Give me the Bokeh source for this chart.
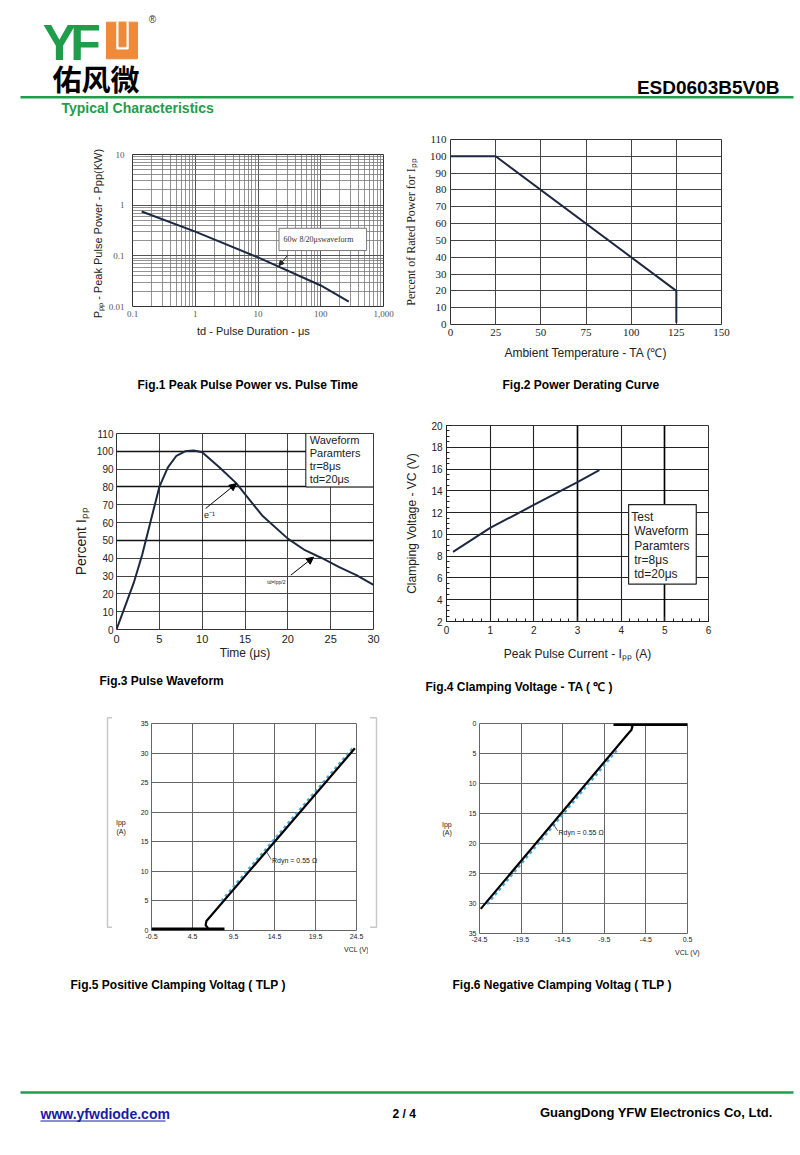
from bokeh.plotting import figure
from bokeh.models import (Range1d, FixedTicker, NumeralTickFormatter, Arrow, NormalHead, Grid,
                          CustomJSTickFormatter)
from bokeh.layouts import column, row
from bokeh.embed import file_html
from bokeh.resources import INLINE
from bokeh.core.properties import value

# ---------------- data ----------------
# Fig.1 Peak pulse power vs pulse time (log-log)
f1_td = [0.14, 1, 10, 100, 280]
f1_ppp = [0.75, 0.30, 0.093, 0.026, 0.0125]
f1_xticks = [0.1, 1, 10, 100, 1000]
f1_yticks = [0.01, 0.1, 1, 10]

# Fig.2 Power derating curve
f2_temp = [0, 25, 125, 125]
f2_pct = [100, 100, 20, 1]
f2_xticks = [0, 25, 50, 75, 100, 125, 150]
f2_yticks = [0, 10, 20, 30, 40, 50, 60, 70, 80, 90, 100, 110]

# Fig.3 Pulse waveform
f3_t = [0, 1, 2, 3, 4, 5, 6, 7, 8, 9, 10, 12, 14, 15, 17, 20, 22, 24, 26, 28, 30]
f3_pct = [0, 13, 26, 42, 61, 80, 91, 97.5, 100, 100.5, 99.5, 91, 82, 76, 64, 51, 44.5, 40, 35, 30.5, 25]
f3_xticks = [0, 5, 10, 15, 20, 25, 30]
f3_yticks = [0, 10, 20, 30, 40, 50, 60, 70, 80, 90, 100, 110]
f3_box_lines = ["Waveform", "Paramters", "tr=8\u03bcs", "td=20\u03bcs"]

# Fig.4 Clamping voltage vs peak pulse current
f4_ipp = [0.15, 1, 2, 3, 3.5]
f4_vc = [8.4, 10.6, 12.7, 14.8, 15.9]
f4_xticks = [0, 1, 2, 3, 4, 5, 6]
f4_yticks = [2, 4, 6, 8, 10, 12, 14, 16, 18, 20]
f4_box_lines = ["Test", "Waveform", "Paramters", "tr=8\u03bcs", "td=20\u03bcs"]

# Fig.5 Positive clamping voltage (TLP)
f5_flat_v = [-0.5, 8.4]
f5_flat_i = [0.25, 0.25]
f5_v = [6.4, 6.1, 6.2, 6.7, 24.3]
f5_i = [0.4, 0.9, 1.6, 2.4, 30.8]
f5_fit_v = [8.0, 24.0]
f5_fit_i = [5.0, 30.8]
f5_xticks = [-0.5, 4.5, 9.5, 14.5, 19.5, 24.5]
f5_yticks = [0, 5, 10, 15, 20, 25, 30, 35]

# Fig.6 Negative clamping voltage (TLP)
f6_flat_v = [-8.4, 0.5]
f6_flat_i = [0.15, 0.15]
f6_v = [-6.4, -6.1, -6.25, -6.7, -24.35]
f6_i = [0.2, 0.4, 1.1, 1.8, 30.9]
f6_fit_v = [-8.0, -23.8]
f6_fit_i = [4.5, 30.5]
f6_xticks = [-24.5, -19.5, -14.5, -9.5, -4.5, 0.5]
f6_yticks = [0, 5, 10, 15, 20, 25, 30, 35]

# ---------------- styles ----------------
SANS = "Liberation Sans"
SERIF = "Liberation Serif"
GREEN = "#1f9d4a"
ORANGE = "#ee8a3a"
NAVY = "#1c2940"
BRACKET = "#c8c8c8"
W = 800


def txt(p, x, y, s, size, color="black", bold=False, font=SANS, align="left", baseline="middle"):
    p.text(x=[x], y=[y], text=[s], text_font=value(font), text_font_size=f"{size}px",
           text_color=color, text_font_style="bold" if bold else "normal",
           text_align=align, text_baseline=baseline)


def unalign(p):
    try:
        p.frame_align = False
    except Exception:
        pass


def band(h, y0, x0=0, w=W):
    p = figure(width=w, height=h, x_range=Range1d(x0, x0 + w), y_range=Range1d(y0 + h, y0),
               x_axis_location=None, y_axis_location=None, output_backend="svg",
               toolbar_location=None, min_border=0)
    p.grid.visible = False
    p.outline_line_color = None
    p.background_fill_color = "white"
    p.border_fill_color = "white"
    unalign(p)
    return p


def chart(w, h, xr, yr, mb, xtype="linear", ytype="linear"):
    p = figure(width=w, height=h, x_range=xr, y_range=yr, x_axis_type=xtype, y_axis_type=ytype,
               output_backend="svg", toolbar_location=None,
               min_border_left=mb[0], min_border_right=mb[1], min_border_top=mb[2], min_border_bottom=mb[3])
    unalign(p)
    p.background_fill_color = "white"
    p.border_fill_color = "white"
    p.outline_line_color = "#333333"
    for ax in p.axis:
        ax.axis_label_text_font_style = "normal"
        ax.axis_label_text_font = SANS
        ax.major_label_text_font = SANS
        ax.axis_line_color = None
        ax.major_tick_line_color = None
        ax.minor_tick_line_color = None
        ax.major_tick_out = 0
        ax.minor_tick_out = 0
        ax.major_tick_in = 0
        ax.minor_tick_in = 0
        ax.major_label_text_color = "#222222"
        ax.axis_label_text_color = "#222222"
    return p


def set_ticks(p, xt, yt, xminor=None, yminor=None):
    tx = FixedTicker(ticks=xt, minor_ticks=xminor or [])
    ty = FixedTicker(ticks=yt, minor_ticks=yminor or [])
    p.xaxis.ticker = tx
    p.xgrid.ticker = tx
    p.yaxis.ticker = ty
    p.ygrid.ticker = ty


# ---------------- header ----------------
hdr = band(120, 0)
txt(hdr, 59, 42.8, "Y", 50, GREEN, True, SANS, align="center")
txt(hdr, 85, 42.8, "F", 50, GREEN, True, SANS, align="center")
hdr.quad(left=[106], right=[137], top=[21.7], bottom=[58.3], color=ORANGE)
hdr.quad(left=[116.3], right=[127.7], top=[21.7], bottom=[48.5], color="white")
hdr.quad(left=[118.5], right=[125.5], top=[21.7], bottom=[46.3], color=ORANGE)
txt(hdr, 152, 18.5, "\u00ae", 10, "#333333", align="center")
txt(hdr, 52, 77, "\u4f51\u98ce\u5fae", 29, "black", True, "Noto Sans CJK SC")
txt(hdr, 779, 87, "ESD0603B5V0B", 19, "black", True, align="right")
hdr.line(x=[20, 793], y=[96.7, 96.7], line_color=GREEN, line_width=2.5)
txt(hdr, 61, 107.5, "Typical Characteristics", 14, GREEN, True)

# ---------------- Fig.1 ----------------
p1 = chart(400, 250, Range1d(0.1, 1000), Range1d(0.01, 10), (132, 17, 34, 64), "log", "log")
x1_minor = [m * 10.0 ** k for k in range(-1, 3) for m in range(2, 10)]
y1_minor = [m * 10.0 ** k for k in range(-2, 1) for m in range(2, 10)]
set_ticks(p1, f1_xticks, f1_yticks, x1_minor, y1_minor)
for ax in p1.axis:
    ax.formatter = NumeralTickFormatter(format="0,0.[00]")
    ax.major_label_text_font = SERIF
    ax.major_label_text_font_size = "9px"
    ax.major_label_text_color = "#555555"
    ax.axis_label_text_font_size = "11px"
p1.yaxis.major_label_standoff = 8
p1.yaxis.axis_label_standoff = 2
p1.xaxis.major_label_standoff = 4
p1.xaxis.axis_label_standoff = 5
p1.yaxis.axis_label = "P\u209a\u209a  -  Peak Pulse Power - Ppp(KW)"
p1.xaxis.axis_label = "td  -  Pulse Duration  - \u03bcs"
for g in (p1.xgrid, p1.ygrid):
    g.grid_line_color = "#555555"
    g.grid_line_width = 1
    g.minor_grid_line_color = "#777777"
    g.minor_grid_line_width = 0.8
p1.line(f1_td, f1_ppp, line_color=NAVY, line_width=2)
p1.quad(left=[21.6], right=[538], bottom=[0.127], top=[0.35], fill_color="white", line_color="#777777")
p1.text(x=[25.6], y=[0.209], text=["60w   8/20\u03bcswaveform"], text_font=value(SERIF),
        text_font_size="8px", text_color="#333333", text_baseline="middle")
p1.add_layout(Arrow(end=NormalHead(size=5, fill_color="#222222", line_color="#222222"),
                    x_start=29.4, y_start=0.101, x_end=21.6, y_end=0.064, line_width=1, line_color="#222222"))

# ---------------- Fig.2 ----------------
p2 = chart(400, 250, Range1d(0, 150), Range1d(0, 110), (49, 79, 19, 46))
set_ticks(p2, f2_xticks, f2_yticks)
for ax in p2.axis:
    ax.major_label_text_font = SERIF
    ax.major_label_text_font_size = "11px"
    ax.major_label_standoff = 4
p2.yaxis.axis_label = "Percent of Rated Power for I\u209a\u209a"
p2.yaxis.axis_label_text_font = SERIF
p2.yaxis.axis_label_text_font_size = "12px"
p2.yaxis.axis_label_standoff = 9
p2.xaxis.axis_label = "Ambient Temperature - TA (\u2103)"
p2.xaxis.axis_label_text_font_size = "12px"
p2.xaxis.axis_label_standoff = 7
for g in (p2.xgrid, p2.ygrid):
    g.grid_line_color = "#444444"
    g.grid_line_width = 1
p2.line(f2_temp, f2_pct, line_color=NAVY, line_width=2)

# ---------------- Fig.3 ----------------
p3 = chart(400, 270, Range1d(0, 30), Range1d(0, 110), (116, 27, 33, 41))
set_ticks(p3, f3_xticks, f3_yticks)
p3.yaxis.major_label_text_font_size = "10px"
p3.xaxis.major_label_text_font_size = "11px"
p3.yaxis.major_label_standoff = 3
p3.xaxis.major_label_standoff = 5
p3.yaxis.axis_label = "Percent      I\u209a\u209a"
p3.yaxis.axis_label_text_font_size = "14px"
p3.yaxis.axis_label_standoff = 5
p3.xaxis.axis_label = "Time (\u03bcs)"
p3.xaxis.axis_label_text_font_size = "12px"
p3.xaxis.axis_label_standoff = 0
for g in (p3.xgrid, p3.ygrid):
    g.grid_line_color = "#444444"
    g.grid_line_width = 1
p3.add_layout(Grid(dimension=1, ticker=FixedTicker(ticks=[50, 80, 100]), grid_line_color="#111111", grid_line_width=1.6))
p3.quad(left=[22.1], right=[30], bottom=[80], top=[110], fill_color="white", line_color="#111111", line_width=1)
p3.text(x=[22.55] * 4, y=[106.5, 99.0, 91.6, 84.5], text=f3_box_lines, text_font=value(SANS),
        text_font_size="11px", text_color="#222222", text_baseline="middle")
p3.line(f3_t, f3_pct, line_color=NAVY, line_width=2)
p3.add_layout(Arrow(end=NormalHead(size=7, fill_color="black", line_color="black"),
                    x_start=10.4, y_start=67.9, x_end=14.0, y_end=81.9, line_width=1))
p3.add_layout(Arrow(end=NormalHead(size=7, fill_color="black", line_color="black"),
                    x_start=20.35, y_start=30.5, x_end=23.0, y_end=40.6, line_width=1))
p3.text(x=[10.2], y=[64.3], text=["e\u207b\u00b9"], text_font=value(SANS), text_font_size="9px",
        text_color="#222222", text_baseline="middle")
p3.text(x=[17.6], y=[26.6], text=["td=Ipp/2"], text_font=value(SANS), text_font_size="5px",
        text_color="#222222", text_baseline="middle")

# ---------------- Fig.4 ----------------
p4 = chart(400, 270, Range1d(0, 6), Range1d(2, 20), (46, 92, 25, 49))
x4_minor = [i * 0.2 for i in range(0, 31)]
y4_minor = [2 + i * 0.5 for i in range(0, 37)]
set_ticks(p4, f4_xticks, f4_yticks, x4_minor, y4_minor)
for ax in p4.axis:
    ax.major_label_text_font_size = "10px"
    ax.major_label_standoff = 4
    ax.axis_line_color = "#222222"
    ax.major_tick_line_color = "#222222"
    ax.minor_tick_line_color = "#222222"
    ax.major_tick_in = 5
    ax.minor_tick_in = 3
p4.yaxis.axis_label = "Clamping Voltage - VC (V)"
p4.yaxis.axis_label_text_font_size = "12px"
p4.yaxis.axis_label_standoff = 9
p4.xaxis.axis_label = "Peak Pulse Current - I\u209a\u209a (A)"
p4.xaxis.axis_label_text_font_size = "12px"
p4.xaxis.axis_label_standoff = 10
for g in (p4.xgrid, p4.ygrid):
    g.grid_line_color = "#222222"
    g.grid_line_width = 1.1
p4.add_layout(Grid(dimension=0, ticker=FixedTicker(ticks=[3, 5]), grid_line_color="black", grid_line_width=1.6))
p4.line(f4_ipp, f4_vc, line_color=NAVY, line_width=2)
p4.quad(left=[4.17], right=[5.72], bottom=[5.44], top=[12.74], fill_color="white", line_color="#222222", line_width=1.2)
p4.text(x=[4.23, 4.30, 4.30, 4.30, 4.30], y=[11.63, 10.34, 8.96, 7.68, 6.39], text=f4_box_lines,
        text_font=value(SANS), text_font_size="12px", text_color="#222222", text_baseline="middle")

# ---------------- Fig.5 (with grey bracket frame on both sides) ----------------
p5 = chart(256, 270, Range1d(-0.5, 24.5), Range1d(0, 35), (36, 12, 23, 40))
set_ticks(p5, f5_xticks, f5_yticks)
for ax in p5.axis:
    ax.major_label_text_font_size = "7px"
    ax.major_label_standoff = 3
    ax.axis_label_text_font_size = "7px"
p5.xaxis.formatter = CustomJSTickFormatter(code="return tick.toString();")
p5.yaxis.axis_label = "Ipp\n(A)"
p5.yaxis.axis_label_orientation = "horizontal"
p5.yaxis.axis_label_standoff = 12
p5.xaxis.axis_label = "VCL (V)"
p5.xaxis.axis_label_standoff = 4
try:
    p5.xaxis.axis_label_align = "end"
except Exception:
    pass
p5.outline_line_color = "#666666"
for g in (p5.xgrid, p5.ygrid):
    g.grid_line_color = "#666666"
    g.grid_line_width = 1
p5.line(f5_fit_v, f5_fit_i, line_color="#4aa8d8", line_width=2.2, line_dash="3 3")
p5.line(f5_flat_v, f5_flat_i, line_color="black", line_width=3)
p5.line(f5_v, f5_i, line_color="black", line_width=2.2)
p5.segment(x0=[13.5], y0=[13.4], x1=[14.1], y1=[12.0], line_color="#333333", line_width=0.8)
p5.text(x=[14.2], y=[11.8], text=["Rdyn = 0.55 \u03a9"], text_font=value(SANS), text_font_size="7px",
        text_color="#222222", text_baseline="middle")

brL = band(270, 700, 0, 112)
brL.line(x=[112, 107, 107, 112], y=[717.3, 717.3, 926.7, 926.7], line_color=BRACKET, line_width=1.5)
brR = band(270, 700, 368, 32)
brR.line(x=[369.5, 376, 376, 369.5], y=[717.3, 717.3, 926.7, 926.7], line_color=BRACKET, line_width=1.5)

# ---------------- Fig.6 ----------------
p6 = chart(400, 270, Range1d(-24.5, 0.5), Range1d(35, 0), (79, 113, 23, 37))
set_ticks(p6, f6_xticks, f6_yticks)
for ax in p6.axis:
    ax.major_label_text_font_size = "7px"
    ax.major_label_standoff = 3
    ax.axis_label_text_font_size = "7px"
p6.xaxis.formatter = CustomJSTickFormatter(code="return tick.toString();")
p6.yaxis.axis_label = "Ipp\n(A)"
p6.yaxis.axis_label_orientation = "horizontal"
p6.yaxis.axis_label_standoff = 14
p6.xaxis.axis_label = "VCL (V)"
p6.xaxis.axis_label_standoff = 4
try:
    p6.xaxis.axis_label_align = "end"
except Exception:
    pass
p6.outline_line_color = "#666666"
for g in (p6.xgrid, p6.ygrid):
    g.grid_line_color = "#666666"
    g.grid_line_width = 1
p6.line(f6_fit_v, f6_fit_i, line_color="#4aa8d8", line_width=2.2, line_dash="3 3")
p6.line(f6_flat_v, f6_flat_i, line_color="black", line_width=3)
p6.line(f6_v, f6_i, line_color="black", line_width=2.2)
p6.segment(x0=[-15.6], y0=[16.8], x1=[-15.1], y1=[17.9], line_color="#333333", line_width=0.8)
p6.text(x=[-15.0], y=[18.2], text=["Rdyn = 0.55 \u03a9"], text_font=value(SANS), text_font_size="7px",
        text_color="#222222", text_baseline="middle")

# ---------------- captions & footer ----------------
cap1 = band(30, 370)
txt(cap1, 137, 384, "Fig.1 Peak Pulse Power vs. Pulse Time", 12, "black", True)
txt(cap1, 502, 384, "Fig.2 Power Derating Curve", 12, "black", True)

cap2 = band(30, 670)
txt(cap2, 99, 680, "Fig.3 Pulse Waveform", 12, "black", True)
txt(cap2, 425, 686, "Fig.4 Clamping Voltage - TA ( \u2103 )", 12, "black", True)

bot = band(170, 970)
txt(bot, 70, 984, "Fig.5 Positive Clamping Voltag ( TLP )", 12, "black", True)
txt(bot, 452, 984, "Fig.6 Negative Clamping Voltag ( TLP )", 12, "black", True)
bot.line(x=[20, 793], y=[1092, 1092], line_color=GREEN, line_width=2.5)
txt(bot, 40, 1113, "www.yfwdiode.com", 14, "#1a1aa8", True)
bot.line(x=[40, 165], y=[1120.5, 1120.5], line_color="#1a1aa8", line_width=1)
txt(bot, 392, 1113, "2 / 4", 12, "black", True)
txt(bot, 772, 1112, "GuangDong YFW Electronics Co, Ltd.", 13, "black", True, align="right")

layout = column(hdr, row(p1, p2), cap1, row(p3, p4), cap2, row(brL, p5, brR, p6), bot)

open("out.html", "w").write(file_html(layout, INLINE))
